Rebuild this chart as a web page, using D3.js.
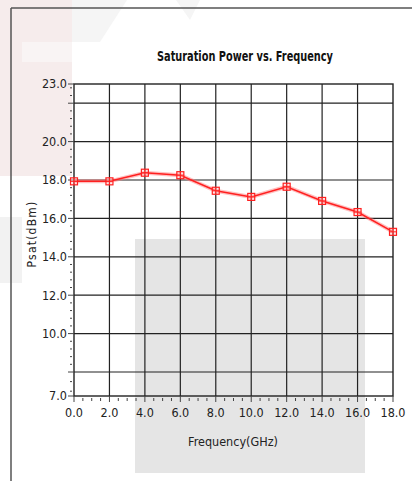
<!DOCTYPE html>
<html>
  <head>
    <meta charset="utf-8">
    <script src="https://d3js.org/d3.v7.min.js" charset="utf-8"></script>
    <style>
      body { margin: 0; background: #fff; }
      text { font-family: "DejaVu Sans Condensed", "Liberation Sans Narrow", "Open Sans", sans-serif; fill: #222; }
    </style>
  </head>
  <body>
    <script type="text/javascript">

// data
var freq = [0, 2, 4, 6, 8, 10, 12, 14, 16, 18];
var psat = [17.93, 17.93, 18.38, 18.25, 17.44, 17.12, 17.65, 16.91, 16.33, 15.3];

var xTicks = [0, 2, 4, 6, 8, 10, 12, 14, 16, 18];
var yLabels = [23, 20, 18, 16, 14, 12, 10, 7];
var yGrid = [22, 20, 18, 16, 14, 12, 10, 8];

var w = 412;
var h = 481;

// the bottom stretch 7..8 is drawn a little taller in the source graph
var x = d3.scaleLinear().domain([0, 18]).range([74, 393]);
var y = d3.scaleLinear().domain([7, 8, 23]).range([396, 372, 84]);

var svg =
  d3.select("body")
    .append("svg")
    .attr("width", w)
    .attr("height", h);

// faint watermark shapes behind everything
svg.append("rect").attr("x", 0).attr("y", 0).attr("width", 72).attr("height", 176).style("fill", "#f6ecec");
svg.append("rect").attr("x", 22).attr("y", 42).attr("width", 50).attr("height", 20).style("fill", "#f9f4f4");
svg.append("rect").attr("x", 0).attr("y", 217).attr("width", 22).attr("height", 66).style("fill", "#f2f2f2");
svg.append("polygon").attr("points", "72,0 127,0 100,42 72,42").style("fill", "#f5f5f5");
svg.append("polygon").attr("points", "176,0 200,0 190,20").style("fill", "#f5f5f5");

// outer frame lines
svg.append("line").attr("x1", 11).attr("x2", w).attr("y1", 8).attr("y2", 8)
  .style("stroke", "#555").style("stroke-width", 1.5);
svg.append("line").attr("x1", 11).attr("x2", 11).attr("y1", 8).attr("y2", h)
  .style("stroke", "#555").style("stroke-width", 1.5);

// plot background
svg.append("rect")
  .attr("x", x(0)).attr("y", y(23))
  .attr("width", x(18) - x(0)).attr("height", y(7) - y(23))
  .style("fill", "#fff");

// grey watermark block over the lower part
svg.append("rect").attr("x", 135).attr("y", 239).attr("width", 230).attr("height", 234)
  .style("fill", "#e5e5e5");

// grid
svg.selectAll("line.vgrid")
  .data(xTicks.slice(1, -1))
  .enter()
  .append("line")
  .attr("class", "vgrid")
  .attr("x1", function(d) { return x(d); })
  .attr("x2", function(d) { return x(d); })
  .attr("y1", y(23))
  .attr("y2", y(7))
  .style("stroke", "#222")
  .style("stroke-width", 1.2);

svg.selectAll("line.hgrid")
  .data(yGrid)
  .enter()
  .append("line")
  .attr("class", "hgrid")
  .attr("x1", x(0))
  .attr("x2", x(18))
  .attr("y1", function(d) { return y(d); })
  .attr("y2", function(d) { return y(d); })
  .style("stroke", "#222")
  .style("stroke-width", 1.2);

svg.append("rect")
  .attr("x", x(0)).attr("y", y(23))
  .attr("width", x(18) - x(0)).attr("height", y(7) - y(23))
  .style("fill", "none")
  .style("stroke", "#222")
  .style("stroke-width", 1.4);

// x axis ticks
var xMinor = d3.range(0, 18.01, 0.5).filter(function(d) { return d % 2 !== 0; });
svg.selectAll("line.xminor")
  .data(xMinor)
  .enter()
  .append("line")
  .attr("x1", function(d) { return x(d); })
  .attr("x2", function(d) { return x(d); })
  .attr("y1", y(7) + 2)
  .attr("y2", y(7) + 5)
  .style("stroke", "#444");

svg.selectAll("line.xmajor")
  .data(xTicks)
  .enter()
  .append("line")
  .attr("x1", function(d) { return x(d); })
  .attr("x2", function(d) { return x(d); })
  .attr("y1", y(7))
  .attr("y2", y(7) + 6)
  .style("stroke", "#444");

svg.selectAll("text.xlab")
  .data(xTicks)
  .enter()
  .append("text")
  .attr("x", function(d) { return x(d); })
  .attr("y", 417)
  .attr("text-anchor", "middle")
  .style("font-size", "12.5px")
  .text(function(d) { return d.toFixed(1); });

// y axis ticks
var yMinor = d3.range(7.2, 22.9, 0.4).filter(function(d) {
  return Math.abs(d - Math.round(d)) > 0.01 || Math.round(d) % 2 !== 0;
});
svg.selectAll("line.yminor")
  .data(yMinor)
  .enter()
  .append("line")
  .attr("x1", x(0) - 4)
  .attr("x2", x(0) - 2)
  .attr("y1", function(d) { return y(d); })
  .attr("y2", function(d) { return y(d); })
  .style("stroke", "#444");

svg.selectAll("line.ymajor")
  .data(yLabels.concat([22, 8]))
  .enter()
  .append("line")
  .attr("x1", x(0) - 6)
  .attr("x2", x(0))
  .attr("y1", function(d) { return y(d); })
  .attr("y2", function(d) { return y(d); })
  .style("stroke", "#444");

svg.selectAll("text.ylab")
  .data(yLabels)
  .enter()
  .append("text")
  .attr("x", x(0) - 7)
  .attr("y", function(d) { return y(d); })
  .attr("dy", "0.35em")
  .attr("text-anchor", "end")
  .style("font-size", "12.5px")
  .text(function(d) { return d.toFixed(1); });

// series
var line = d3.line()
  .x(function(d, i) { return x(freq[i]); })
  .y(function(d) { return y(d); });

svg.append("path")
  .attr("d", line(psat))
  .style("fill", "none")
  .style("stroke", "#ff8080")
  .style("stroke-opacity", 0.5)
  .style("stroke-width", 4);

svg.append("path")
  .attr("d", line(psat))
  .style("fill", "none")
  .style("stroke", "#ff2020")
  .style("stroke-width", 1.5);

var marks = svg.selectAll("g.mark")
  .data(psat)
  .enter()
  .append("g")
  .attr("transform", function(d, i) { return "translate(" + x(freq[i]) + "," + y(d) + ")"; });

marks.append("rect")
  .attr("x", -3.5).attr("y", -3.5)
  .attr("width", 7).attr("height", 7)
  .style("fill", "#ffd0d0")
  .style("fill-opacity", 0.4)
  .style("stroke", "#ff2020")
  .style("stroke-width", 1.2);

marks.append("path")
  .attr("d", "M-3.5,0H3.5M0,-3.5V3.5")
  .style("stroke", "#ff2020")
  .style("stroke-width", 1);

// titles
svg.append("text")
  .attr("x", 157)
  .attr("y", 61)
  .attr("textLength", 176)
  .attr("lengthAdjust", "spacingAndGlyphs")
  .style("font-size", "14px")
  .style("font-weight", "bold")
  .style("fill", "#111")
  .text("Saturation Power vs. Frequency");

svg.append("text")
  .attr("x", 233)
  .attr("y", 446)
  .attr("text-anchor", "middle")
  .style("font-size", "12.5px")
  .text("Frequency(GHz)");

svg.append("text")
  .attr("transform", "translate(36,234) rotate(-90)")
  .attr("text-anchor", "middle")
  .style("font-size", "12px")
  .style("letter-spacing", "1.2px")
  .text("Psat(dBm)");

    </script>
  </body>
</html>
